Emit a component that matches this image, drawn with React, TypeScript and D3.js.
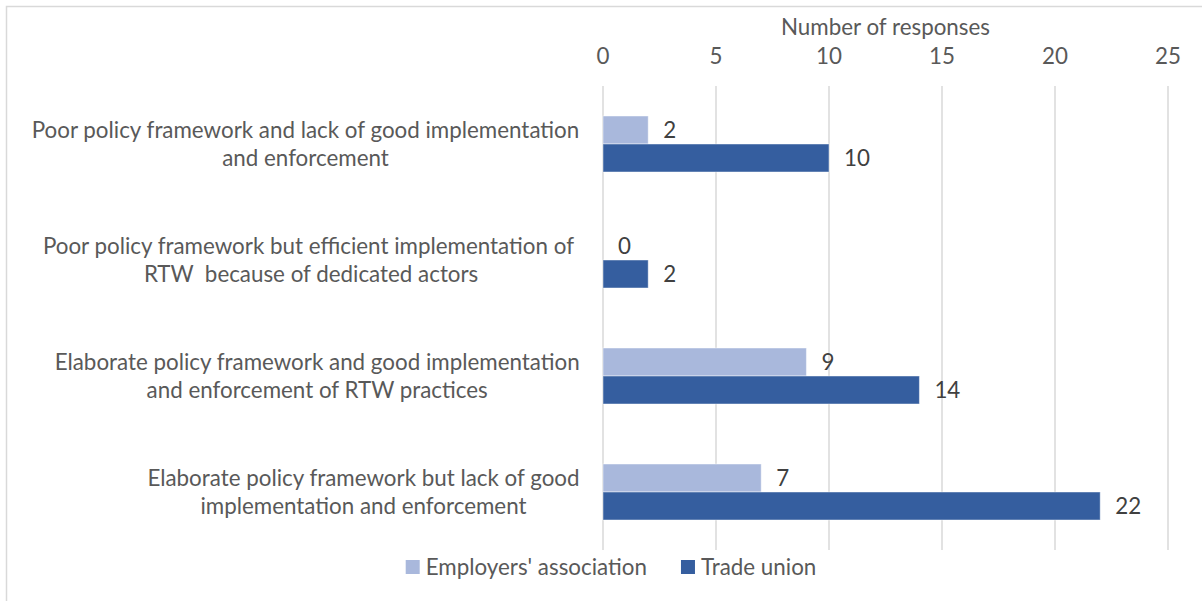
import React, { useMemo } from "react";
import * as d3 from "d3";

const categoryLabels = [
  "Poor policy framework and lack of good implementation|and enforcement",
  "Poor policy framework but efficient implementation of |RTW  because of dedicated actors",
  "Elaborate policy framework and good implementation|and enforcement of RTW practices",
  "Elaborate policy framework but lack of good|implementation and enforcement",
];
const employers = [2, 0, 9, 7];
const tradeUnion = [10, 2, 14, 22];
const xTicks = [0, 5, 10, 15, 20, 25];
const seriesNames = ["Employers' association", "Trade union"];
const axisTitle = "Number of responses";

const FONT = "Lato";
const LIGHT = "#A9B8DC";
const DARK = "#355E9F";
const LABEL = "#595959";
const DATA = "#404040";
const GRID = "#D9D9D9";

function makeMeasure(size: number) {
  const c = document.createElement("canvas").getContext("2d")!;
  c.font = `${size}px ${FONT}`;
  return (s: string) => c.measureText(s).width;
}

export default function App() {
  const W = 1202, H = 601;
  const fs = useMemo(() => {
    const m = makeMeasure(24);
    return 24 * (210 / m(axisTitle));
  }, []);
  const measure = useMemo(() => makeMeasure(fs), [fs]);

  const x = d3.scaleLinear().domain([0, 25]).range([603, 1168]);
  const y = d3.scaleBand<number>().domain(d3.range(categoryLabels.length)).range([86, 550]);
  const barH = 28;
  const step = y.step();

  const legendItems = seriesNames.map((n, i) => ({ n, c: i === 0 ? LIGHT : DARK, w: measure(n) }));
  const sq = 14, gapT = 6, gapI = 34;
  const legendW = legendItems.reduce((a, it) => a + sq + gapT + it.w, 0) + gapI;
  let lx = 611 - legendW / 2;
  const legendPos = legendItems.map((it) => {
    const p = lx;
    lx += sq + gapT + it.w + gapI;
    return p;
  });

  return (
    <svg
      width={W}
      height={H}
      style={{ position: "absolute", left: 0, top: 0, background: "#fff" }}
      fontFamily={FONT}
    >
      <rect x={6.5} y={6.5} width={1230} height={640} fill="#fff" stroke={GRID} strokeWidth={1.5} />
      <text x={(x(0) + x(25)) / 2} y={35} textAnchor="middle" fontSize={fs} fill={LABEL}>
        {axisTitle}
      </text>
      {xTicks.map((t) => (
        <g key={t}>
          <line x1={x(t)} x2={x(t)} y1={86} y2={550} stroke={GRID} strokeWidth={1.5} />
          <text x={x(t)} y={64} textAnchor="middle" fontSize={fs} fill={LABEL}>
            {t}
          </text>
        </g>
      ))}
      {categoryLabels.map((lab, i) => {
        const lines = lab.split("|");
        const maxW = Math.max(...lines.map((l) => measure(l)));
        const cx = 580 - maxW / 2;
        const cy = y(i)! + step / 2;
        const lh = 28.5;
        return (
          <g key={i}>
            {lines.map((l, j) => (
              <text
                key={j}
                x={cx}
                y={cy + (j - (lines.length - 1) / 2) * lh + fs * 0.35}
                textAnchor="middle"
                fontSize={fs}
                fill={LABEL}
                style={{ whiteSpace: "pre" }}
              >
                {l}
              </text>
            ))}
          </g>
        );
      })}
      {categoryLabels.map((_, i) => {
        const cy = y(i)! + step / 2;
        const bars = [
          { v: employers[i], c: LIGHT, y0: cy - barH },
          { v: tradeUnion[i], c: DARK, y0: cy },
        ];
        return (
          <g key={i}>
            {bars.map((b, j) => (
              <g key={j}>
                {b.v > 0 && (
                  <rect
                    x={x(0)}
                    y={b.y0}
                    width={x(b.v) - x(0)}
                    height={barH}
                    fill={b.c}
                    stroke="rgba(255,255,255,0.45)"
                    strokeWidth={1}
                  />
                )}
                <text
                  x={x(b.v) + 15}
                  y={b.y0 + barH / 2 + fs * 0.35}
                  fontSize={fs}
                  fill={DATA}
                >
                  {b.v}
                </text>
              </g>
            ))}
          </g>
        );
      })}
      {legendItems.map((it, i) => (
        <g key={i}>
          <rect x={legendPos[i]} y={560} width={sq} height={sq} fill={it.c} />
          <text x={legendPos[i] + sq + gapT} y={567 + fs * 0.35} fontSize={fs} fill={LABEL}>
            {it.n}
          </text>
        </g>
      ))}
    </svg>
  );
}
